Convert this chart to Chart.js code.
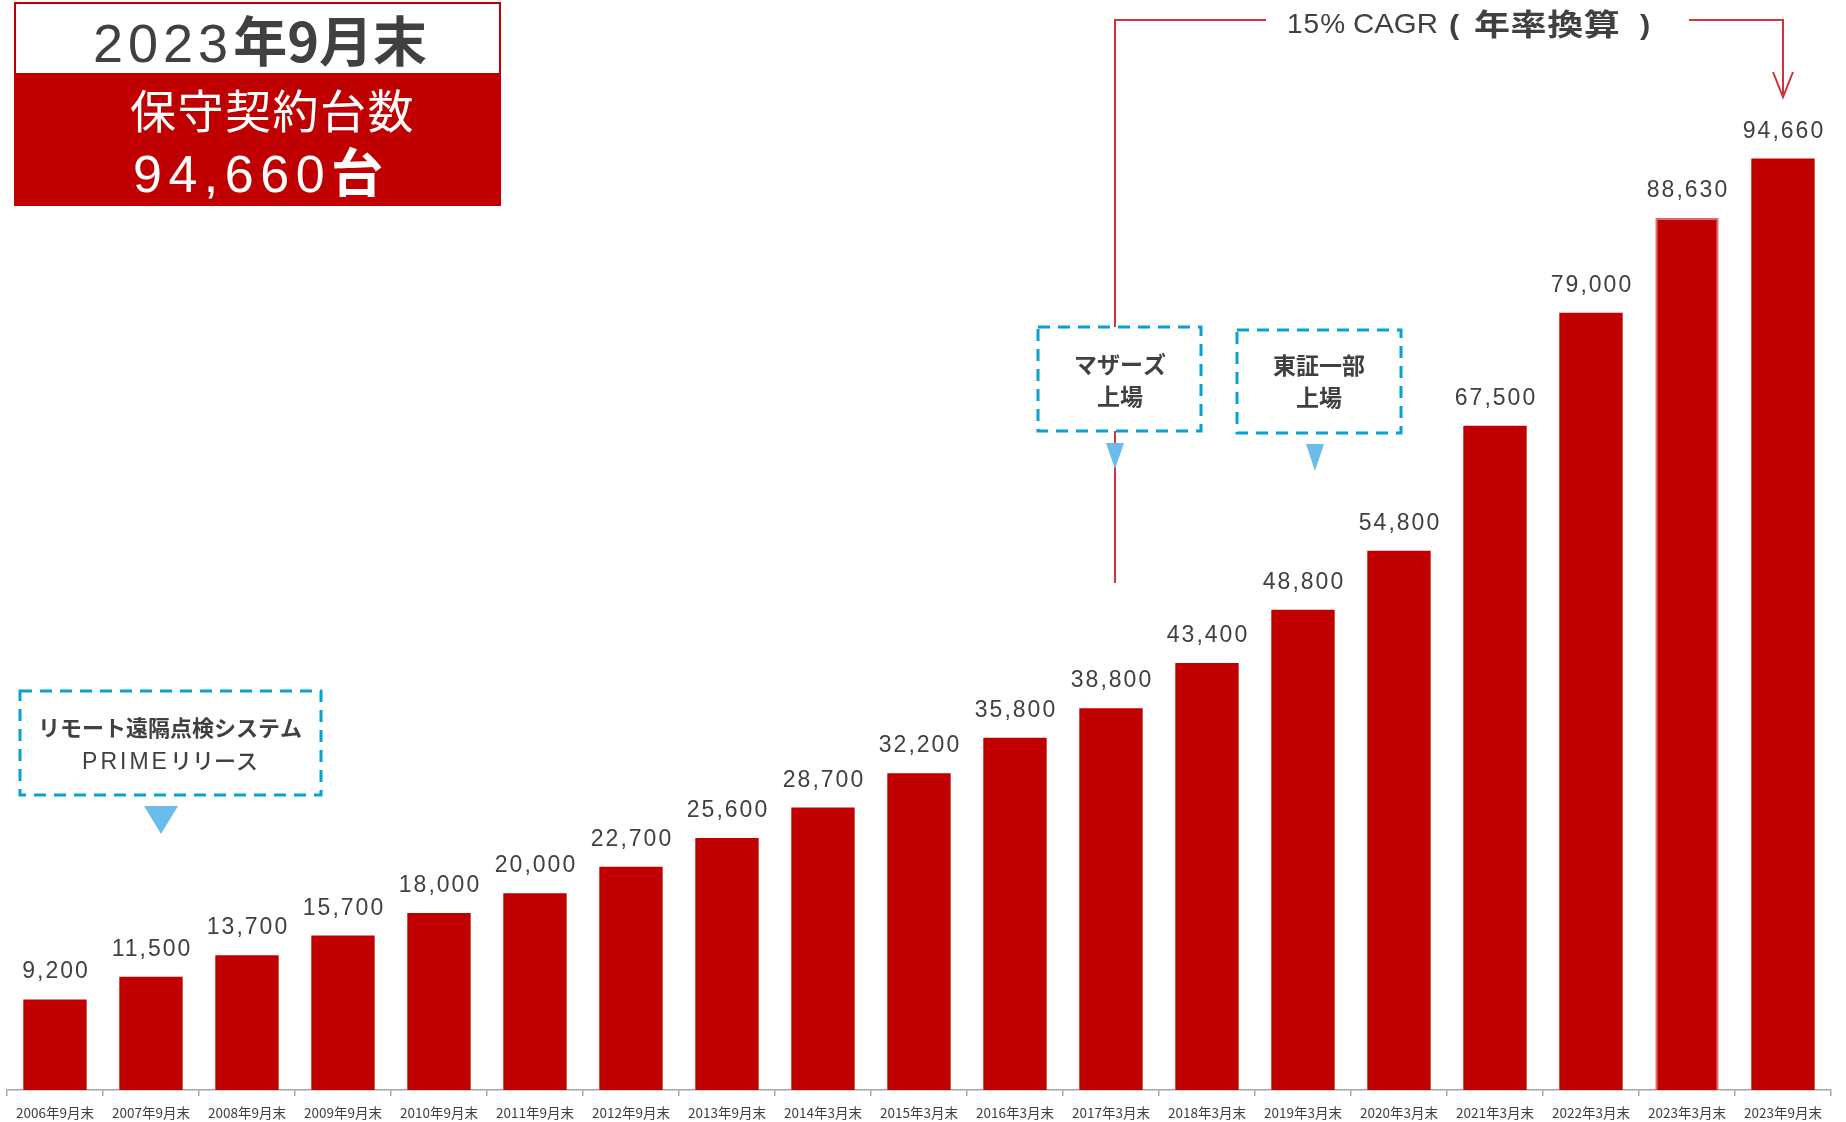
<!DOCTYPE html>
<html>
<head>
<meta charset="utf-8">
<script src="https://cdn.jsdelivr.net/npm/chart.js@4.4.0/dist/chart.umd.min.js"></script>
<style>
  html, body { margin: 0; padding: 0; background: #fff; }
  #wrap { width: 1846px; height: 1122px; }
</style>
</head>
<body>
<div id="wrap"><canvas id="unitsChart" width="1846" height="1122"></canvas></div>
<script>
// Data
const periods = [
    '2006年9月末', '2007年9月末', '2008年9月末', '2009年9月末', '2010年9月末',
    '2011年9月末', '2012年9月末', '2013年9月末', '2014年3月末', '2015年3月末',
    '2016年3月末', '2017年3月末', '2018年3月末', '2019年3月末', '2020年3月末',
    '2021年3月末', '2022年3月末', '2023年3月末', '2023年9月末'
];
const units = [
    9200, 11500, 13700, 15700, 18000, 20000, 22700, 25600, 28700, 32200,
    35800, 38800, 43400, 48800, 54800, 67500, 79000, 88630, 94660
];
const yMax = 100000;

const JP = '"Noto Sans CJK JP", sans-serif';
const LAT = '"Liberation Sans", Arial, sans-serif';
const TEXT = '#404040';
const RED = '#c00000';
const BLUE = '#0aa0d2';
const TRI = '#6bbbeb';

// Draw a row of text pieces with different fonts, one after the other
function drawRuns(ctx, runs, x, baseline, align) {
    let total = 0;
    const widths = runs.map(r => {
        ctx.font = r.font;
        ctx.letterSpacing = (r.spacing || 0) + 'px';
        const w = ctx.measureText(r.text).width;
        total += w;
        return w;
    });
    let cx = align === 'left' ? x : x - total / 2;
    ctx.textAlign = 'left';
    ctx.textBaseline = 'alphabetic';
    runs.forEach((r, i) => {
        ctx.font = r.font;
        ctx.letterSpacing = (r.spacing || 0) + 'px';
        ctx.fillStyle = r.color || TEXT;
        ctx.fillText(r.text, cx, baseline);
        cx += widths[i];
    });
    ctx.letterSpacing = '0px';
    return total;
}

// Horizontally stretched text (the CAGR caption is drawn wide)
function stretchedText(ctx, text, font, x, baseline, sx, spacing) {
    ctx.save();
    ctx.translate(x, baseline);
    ctx.scale(sx, 1);
    ctx.font = font;
    ctx.letterSpacing = (spacing || 0) + 'px';
    ctx.textAlign = 'left';
    ctx.textBaseline = 'alphabetic';
    ctx.fillStyle = TEXT;
    ctx.fillText(text, 0, 0);
    ctx.restore();
}

function dashedBox(ctx, x, y, w, h) {
    ctx.save();
    ctx.fillStyle = '#fff';
    ctx.fillRect(x, y, w, h);
    ctx.strokeStyle = BLUE;
    ctx.lineWidth = 3;
    ctx.setLineDash([12, 8]);
    ctx.strokeRect(x, y, w, h);
    ctx.restore();
}

function triangle(ctx, cx, top, w, h) {
    ctx.fillStyle = TRI;
    ctx.beginPath();
    ctx.moveTo(cx - w / 2, top);
    ctx.lineTo(cx + w / 2, top);
    ctx.lineTo(cx, top + h);
    ctx.closePath();
    ctx.fill();
}

// Value labels above bars
const valueLabels = {
    id: 'valueLabels',
    afterDatasetsDraw(chart) {
        const ctx = chart.ctx;
        const meta = chart.getDatasetMeta(0);
        ctx.save();
        meta.data.forEach((bar, i) => {
            drawRuns(ctx, [{ text: units[i].toLocaleString('en-US'), font: '23px ' + LAT, spacing: 2 }], bar.x + 1, bar.y - 21);
        });
        ctx.restore();
    }
};

// Title box, CAGR connector and event call-outs
const annotations = {
    id: 'annotations',
    afterDraw(chart) {
        const ctx = chart.ctx;
        const xs = chart.scales.x;
        ctx.save();

        // Title box
        ctx.fillStyle = RED;
        ctx.fillRect(14, 73, 487, 133);
        ctx.strokeStyle = RED;
        ctx.lineWidth = 2;
        ctx.strokeRect(15, 3, 485, 202);
        drawRuns(ctx, [
            { text: '2023', font: '54px ' + LAT, spacing: 5 },
            { text: '年9月末', font: 'bold 54px ' + JP, spacing: 0 }
        ], 260, 62);
        drawRuns(ctx, [{ text: '保守契約台数', font: '46px ' + JP, spacing: 1.5, color: '#fff' }], 130, 128, 'left');
        drawRuns(ctx, [
            { text: '94,660', font: '52px ' + LAT, spacing: 6.5, color: '#fff' },
            { text: '台', font: 'bold 52px ' + JP, spacing: 0, color: '#fff' }
        ], 133, 192, 'left');

        // CAGR connector
        const xStart = xs.getPixelForValue(11) + 4;
        const xEnd = xs.getPixelForValue(18);
        ctx.strokeStyle = '#d0343a';
        ctx.lineWidth = 2;
        ctx.beginPath();
        ctx.moveTo(xStart, 583);
        ctx.lineTo(xStart, 20);
        ctx.lineTo(1266, 20);
        ctx.moveTo(1689, 20);
        ctx.lineTo(xEnd, 20);
        ctx.lineTo(xEnd, 96);
        ctx.moveTo(xEnd - 10, 72);
        ctx.lineTo(xEnd, 97);
        ctx.lineTo(xEnd + 10, 72);
        ctx.stroke();
        // CAGR caption
        stretchedText(ctx, '15%', '28px ' + LAT, 1287, 33, 1.0, 1);
        stretchedText(ctx, 'CAGR', '28px ' + LAT, 1353, 33, 1.05, 0);
        stretchedText(ctx, '(', 'bold 28px ' + LAT, 1449, 34, 1.1, 0);
        stretchedText(ctx, '年率換算', 'bold 30px ' + JP, 1474, 35, 1.2, 0.5);
        stretchedText(ctx, ')', 'bold 28px ' + LAT, 1640, 34, 1.1, 0);

        // PRIME release
        const c1 = xs.getPixelForValue(1) + 19;
        dashedBox(ctx, c1 - 150, 691, 301, 104);
        drawRuns(ctx, [{ text: 'リモート遠隔点検システム', font: 'bold 22px ' + JP, spacing: 0 }], c1, 736);
        drawRuns(ctx, [
            { text: 'PRIME', font: '23px ' + LAT, spacing: 3 },
            { text: 'リリース', font: '500 22px ' + JP, spacing: 0 }
        ], c1, 769);
        triangle(ctx, c1 - 9, 806, 34, 28);

        // Mothers listing
        const c2 = xs.getPixelForValue(11) + 9;
        dashedBox(ctx, c2 - 82, 327, 163, 104);
        drawRuns(ctx, [{ text: 'マザーズ', font: 'bold 23px ' + JP }], c2, 373);
        drawRuns(ctx, [{ text: '上場', font: 'bold 23px ' + JP }], c2, 405);
        triangle(ctx, xStart, 443, 18, 26);

        // TSE 1st section listing
        const c3 = xs.getPixelForValue(13) + 16;
        dashedBox(ctx, c3 - 82, 330, 164, 103);
        drawRuns(ctx, [{ text: '東証一部', font: 'bold 23px ' + JP }], c3, 374);
        drawRuns(ctx, [{ text: '上場', font: 'bold 23px ' + JP }], c3, 406);
        triangle(ctx, c3 - 4, 444, 18, 27);

        ctx.restore();
    }
};

const ctx = document.getElementById('unitsChart').getContext('2d');

new Chart(ctx, {
    type: 'bar',
    data: {
        labels: periods,
        datasets: [{
            data: units,
            backgroundColor: RED,
            borderColor: units.map((v, i) => i === 17 ? '#e06a6a' : RED),
            borderWidth: units.map((v, i) => i === 17 ? 2 : 0),
            borderSkipped: 'bottom',
            barPercentage: 0.66,
            categoryPercentage: 1
        }]
    },
    options: {
        responsive: false,
        devicePixelRatio: 1,
        animation: false,
        layout: { padding: { top: 106, left: 7, right: 15, bottom: 0 } },
        plugins: {
            legend: { display: false },
            tooltip: { enabled: false }
        },
        scales: {
            x: {
                grid: {
                    drawOnChartArea: false,
                    drawTicks: true,
                    tickLength: 6,
                    color: '#a6a6a6',
                    lineWidth: 1.5
                },
                border: { color: '#a6a6a6', width: 1.5 },
                ticks: {
                    color: TEXT,
                    font: { size: 13.5, family: '"Noto Sans CJK JP", "Liberation Sans", sans-serif' },
                    padding: 9,
                    maxRotation: 0,
                    autoSkip: false
                },
                afterFit(axis) { axis.height = 32; }
            },
            y: {
                display: false,
                min: 0,
                max: yMax
            }
        }
    },
    plugins: [valueLabels, annotations]
});
</script>
</body>
</html>
